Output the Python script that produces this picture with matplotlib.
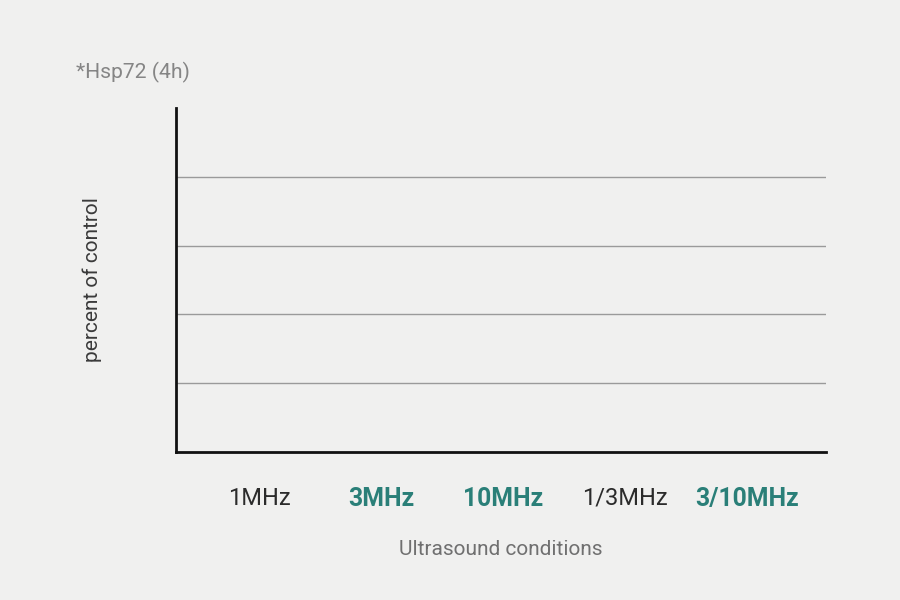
import matplotlib
matplotlib.use("Agg")
import matplotlib.pyplot as plt

categories = ["1MHz", "3MHz", "10MHz", "1/3MHz", "3/10MHz"]
values = [0, 0, 0, 0, 0]
highlight = [False, True, True, False, True]
grid_levels = [1, 2, 3, 4]

plt.rcParams['font.family'] = ['Roboto', 'DejaVu Sans']

fig = plt.figure(figsize=(9, 6), dpi=100)
fig.patch.set_facecolor('#f0f0ef')
ax = fig.add_axes([0.1956, 0.2467, 0.7222, 0.5733])
ax.set_facecolor('#f0f0ef')

x = list(range(len(categories)))
ax.bar(x, values, width=0.6, color='#2a7f78')
ax.set_xlim(-0.68, 4.65)
ax.set_ylim(0, 5)

for g in grid_levels:
    ax.axhline(g, color='#9a9a9a', lw=1.0, zorder=0)

for s in ['top', 'right']:
    ax.spines[s].set_visible(False)
for s in ['left', 'bottom']:
    ax.spines[s].set_color('#111111')
    ax.spines[s].set_linewidth(2)

ax.set_yticks([])
ax.set_xticks(x)
ax.set_xticklabels(categories, fontsize=17)
ax.tick_params(axis='x', length=0, pad=25)
for lbl, h in zip(ax.get_xticklabels(), highlight):
    if h:
        lbl.set_color('#2a7f78')
        lbl.set_fontweight('bold')
        lbl.set_fontsize(17.8)
    else:
        lbl.set_color('#2b2b2b')

ax.set_xlabel("Ultrasound conditions", fontsize=15, color='#707070', labelpad=21)
ax.set_ylabel("percent of control", fontsize=15, color='#3a3a3a', labelpad=53)

fig.text(76/900, 1-72/600, "*Hsp72 (4h)", fontsize=15.2, color='#858585', va='center', ha='left')

fig.savefig("out.png", dpi=100, facecolor=fig.get_facecolor())
